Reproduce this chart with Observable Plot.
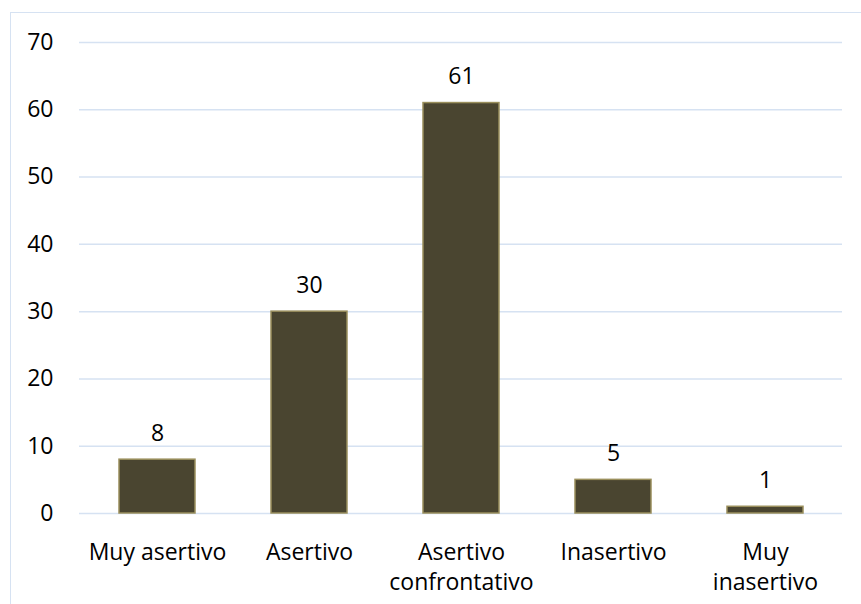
<!DOCTYPE html>
<html>
<head>
<meta charset="utf-8">
<script src="https://cdn.jsdelivr.net/npm/d3@7"></script>
<script src="https://cdn.jsdelivr.net/npm/@observablehq/plot@0.6"></script>
<style>
  html, body { margin: 0; padding: 0; background: #fff; overflow: hidden; }
  #wrap { position: relative; width: 861px; height: 604px; }
  #border { position: absolute; left: 10px; top: 12px; width: 900px; height: 700px; border: 1.5px solid #d6e2f2; box-sizing: border-box; pointer-events: none; }
  #chart { position: absolute; left: 0; top: 0; }
</style>
</head>
<body>
<div id="wrap"><div id="border"></div><div id="chart"></div></div>
<script>
const categories = ["Muy asertivo", "Asertivo", "Asertivo confrontativo", "Inasertivo", "Muy inasertivo"];
const tickLabels = ["Muy asertivo", "Asertivo", "Asertivo\nconfrontativo", "Inasertivo", "Muy\ninasertivo"];
const values = [8, 30, 61, 5, 1];
const yTicks = [0, 10, 20, 30, 40, 50, 60, 70];

const data = categories.map((c, i) => ({category: c, value: values[i]}));
const labelOf = new Map(categories.map((c, i) => [c, tickLabels[i]]));

const chart = Plot.plot({
  width: 861,
  height: 604,
  marginLeft: 79,
  marginRight: 19,
  marginTop: 42,
  marginBottom: 91,
  style: {fontFamily: "'Open Sans', sans-serif", fontSize: "23px", color: "#000", background: "transparent"},
  x: {domain: categories, paddingInner: 0.5, paddingOuter: 0.25, align: 0.5},
  y: {domain: [0, 70]},
  marks: [
    Plot.gridY(yTicks, {stroke: "#d6e2f2", strokeOpacity: 1, strokeWidth: 1.5}),
    Plot.axisY(yTicks, {tickSize: 0, tickPadding: 26, label: null, fontSize: 23, fill: "#000"}),
    Plot.axisX({tickSize: 0, tickPadding: 25, label: null, fontSize: 23, lineHeight: 1.3, fill: "#000", tickFormat: d => labelOf.get(d)}),
    Plot.barY(data, {x: "category", y: "value", fill: "#4a4530", stroke: "#9a8f5c", strokeWidth: 1.5}),
    Plot.text(data, {x: "category", y: "value", text: d => String(d.value), lineAnchor: "middle", dy: -26, fontSize: 23, fill: "#000"})
  ]
});
document.getElementById("chart").appendChild(chart);
</script>
</body>
</html>
